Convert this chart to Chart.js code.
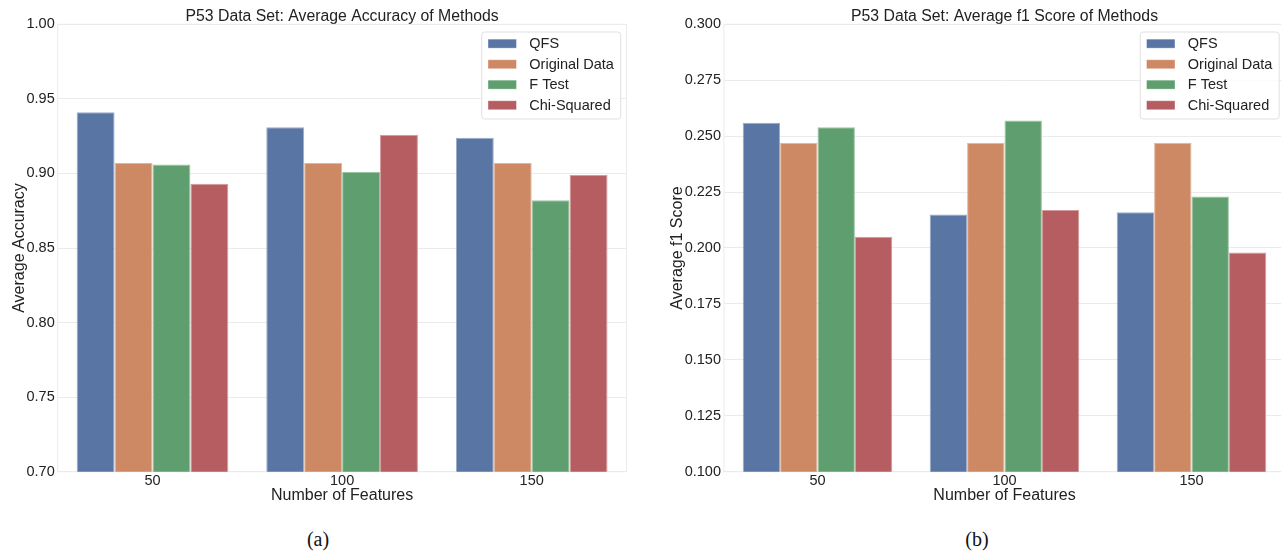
<!DOCTYPE html>
<html><head><meta charset="utf-8">
<script src="https://cdn.jsdelivr.net/npm/chart.js@4.4.0/dist/chart.umd.min.js"></script>
<style>
html,body{margin:0;padding:0;background:#fff;overflow:hidden;width:1281px;height:551px;position:relative;}
#c1{position:absolute;left:0;top:0;}
#c2{position:absolute;left:640px;top:0;}
.cap{position:absolute;font-family:"Liberation Serif","DejaVu Serif",serif;font-size:20px;color:#111;transform:translateX(-50%);top:528px;}
</style></head><body>
<canvas id="c1" width="640" height="510"></canvas>
<canvas id="c2" width="660" height="510"></canvas>
<div class="cap" style="left:318px">(a)</div>
<div class="cap" style="left:977px">(b)</div>
<script>
// ---- data ----
const categories = ['50', '100', '150'];
const methods = ['QFS', 'Original Data', 'F Test', 'Chi-Squared'];
const accQFS  = [0.941, 0.931, 0.924];
const accOrig = [0.907, 0.907, 0.907];
const accF    = [0.906, 0.901, 0.882];
const accChi  = [0.893, 0.926, 0.899];
const f1QFS   = [0.256, 0.215, 0.216];
const f1Orig  = [0.247, 0.247, 0.247];
const f1F     = [0.254, 0.257, 0.223];
const f1Chi   = [0.205, 0.217, 0.198];

// ---- style ----
const colors = ['#5975a4', '#cc8963', '#5f9e6e', '#b55d60'];
const edges  = ['#9aabc8', '#e2b59c', '#9cc5a5', '#d49b9d'];
const FONT = '"Liberation Sans", Arial, sans-serif';
const TXT = '#222222';
const GRID = '#ebebeb';

const frame = {
  id: 'frame',
  beforeDatasetsDraw(chart) {
    const {ctx, chartArea: a} = chart;
    ctx.save();
    ctx.strokeStyle = GRID; ctx.lineWidth = 1;
    ctx.strokeRect(a.left, a.top, a.right - a.left, a.bottom - a.top);
    ctx.restore();
  }
};

const insideLegend = {
  id: 'insideLegend',
  afterDatasetsDraw(chart) {
    const {ctx, chartArea: a} = chart;
    const w = 139, h = 87;
    const x = a.right - 5.8 - w, y = a.top + 7.7;
    ctx.save();
    ctx.beginPath();
    ctx.roundRect(x, y, w, h, 3);
    ctx.fillStyle = 'rgba(255,255,255,0.85)'; ctx.fill();
    ctx.strokeStyle = '#e0e0e0'; ctx.lineWidth = 1; ctx.stroke();
    ctx.font = '14.5px ' + FONT;
    ctx.textBaseline = 'middle';
    chart.data.datasets.forEach((ds, i) => {
      const cy = y + 11.7 + i * 20.5;
      ctx.fillStyle = ds.borderColor; ctx.fillRect(x + 6.3, cy - 4.5, 28.5, 9);
      ctx.fillStyle = ds.backgroundColor; ctx.fillRect(x + 6.8, cy - 4, 27.5, 8);
      ctx.fillStyle = TXT; ctx.fillText(ds.label, x + 47.6, cy + 0.5);
    });
    ctx.restore();
  }
};

function makeChart(id, series, cfg) {
  return new Chart(document.getElementById(id), {
    type: 'bar',
    data: {
      labels: categories,
      datasets: series.map((vals, i) => ({
        label: methods[i],
        data: vals,
        backgroundColor: colors[i],
        borderColor: edges[i],
        borderWidth: 1,
        categoryPercentage: 0.8,
        barPercentage: 1.0
      }))
    },
    options: {
      responsive: false,
      animation: false,
      layout: {padding: {left: 0, right: cfg.padRight, top: 0, bottom: 0}},
      plugins: {
        legend: {display: false},
        tooltip: {enabled: false},
        title: {
          display: true, text: cfg.title, fullSize: false, color: TXT,
          font: {family: FONT, size: 15.8, weight: 'normal', lineHeight: 1},
          padding: {top: 8.5, bottom: 0}
        }
      },
      scales: {
        x: {
          grid: {display: false, drawTicks: false},
          border: {display: false},
          ticks: {color: TXT, padding: 0.5, font: {family: FONT, size: 14.5}},
          title: {display: true, text: 'Number of Features', color: TXT,
                  font: {family: FONT, size: 16}, padding: {top: 0, bottom: 4.6}},
          afterFit(s) { s.height = 38.3; }
        },
        y: {
          min: cfg.min, max: cfg.max,
          grid: {color: GRID, drawTicks: false},
          border: {display: false},
          ticks: {stepSize: cfg.step, color: TXT, padding: 3,
                  font: {family: FONT, size: 14.5},
                  callback: v => v.toFixed(cfg.digits)},
          title: {display: true, text: cfg.ytitle, color: TXT,
                  font: {family: FONT, size: 16}, padding: {top: cfg.ytitlePad, bottom: 0}},
          afterFit(s) { s.width = cfg.yWidth; }
        }
      }
    },
    plugins: [frame, insideLegend]
  });
}

makeChart('c1', [accQFS, accOrig, accF, accChi], {
  title: 'P53 Data Set: Average Accuracy of Methods',
  ytitle: 'Average Accuracy', min: 0.70, max: 1.00, step: 0.05, digits: 2,
  yWidth: 57.7, padRight: 13.5, ytitlePad: 10
});
makeChart('c2', [f1QFS, f1Orig, f1F, f1Chi], {
  title: 'P53 Data Set: Average f1 Score of Methods',
  ytitle: 'Average f1 Score', min: 0.100, max: 0.300, step: 0.025, digits: 3,
  yWidth: 84, padRight: 15, ytitlePad: 27.5
});
</script>
</body></html>
